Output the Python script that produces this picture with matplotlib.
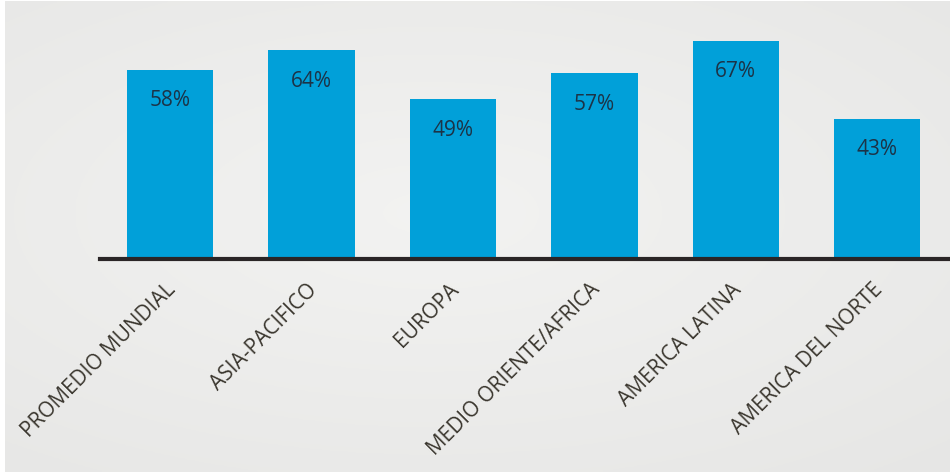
import numpy as np
import matplotlib
matplotlib.use("Agg")
import matplotlib.pyplot as plt
from matplotlib.transforms import ScaledTranslation

categories = ["PROMEDIO MUNDIAL", "ASIA-PACIFICO", "EUROPA",
              "MEDIO ORIENTE/AFRICA", "AMERICA LATINA", "AMERICA DEL NORTE"]
values = [58, 64, 49, 57, 67, 43]
value_labels = ["58%", "64%", "49%", "57%", "67%", "43%"]

W, H = 950, 477
fig = plt.figure(figsize=(W / 100, H / 100), dpi=100, facecolor="white")

# background panel with subtle gradient
bg = fig.add_axes([5 / W, 4 / H, 945 / W, 471 / H])
yy, xx = np.mgrid[0:1:200j, 0:1:400j]
r = np.sqrt(((xx - 0.45) / 1.0) ** 2 + ((yy - 0.55) / 0.9) ** 2)
shade = 0.952 - 0.06 * r
img = np.dstack([shade, shade, shade * 0.995])
bg.imshow(np.clip(img, 0, 1), aspect="auto", extent=[0, 1, 0, 1], origin="lower")
bg.set_axis_off()

# main axes: baseline at y=260 px from top, x from 100 to 948 px
ppu = 3.26
ymax = 72
ax_bottom = (H - 260) / H
ax_height = ymax * ppu / H
ax = fig.add_axes([100 / W, ax_bottom, 848 / W, ax_height])
ax.patch.set_alpha(0)

x = np.arange(len(categories))
ax.bar(x, values, width=0.61, color="#01a0d9", edgecolor="none", zorder=2)
ax.set_xlim(-0.495, 5.5)
ax.set_ylim(0, ymax)

for xi, v, lab in zip(x, values, value_labels):
    ax.annotate(lab, (xi, v), xytext=(0, -21.6), textcoords="offset points",
                ha="center", va="center", fontsize=15, color="#1c3347",
                family="Open Sans", zorder=3)

for s in ["top", "right", "left"]:
    ax.spines[s].set_visible(False)
ax.spines["bottom"].set_linewidth(3)
ax.spines["bottom"].set_color("#2a2526")
ax.spines["bottom"].set_zorder(4)
ax.set_yticks([])
ax.set_xticks(x)
ax.set_xticklabels(categories, rotation=45, ha="right", va="top",
                   rotation_mode="anchor", fontsize=15, color="#3a362e",
                   family="Open Sans")
ax.tick_params(axis="x", length=0, pad=14)
shift = ScaledTranslation(-5 / 100, 0, fig.dpi_scale_trans)
for lbl in ax.get_xticklabels():
    lbl.set_transform(lbl.get_transform() + shift)

fig.savefig("out.png", dpi=100, facecolor="white")
